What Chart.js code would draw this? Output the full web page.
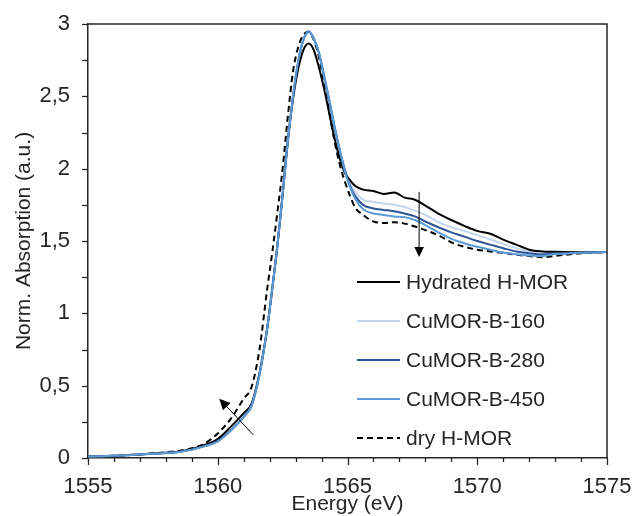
<!DOCTYPE html>
<html>
<head>
<meta charset="utf-8">
<script src="https://cdn.jsdelivr.net/npm/chart.js@4.4.1/dist/chart.umd.min.js"></script>
<style>
  html, body { margin: 0; padding: 0; background: #fff; }
  #wrap { width: 632px; height: 516px; position: relative; }
</style>
</head>
<body>
<div id="wrap"><canvas id="xanesChart"></canvas></div>
<script>
// Energy grid (eV)
const energy = [1555, 1556, 1557, 1558, 1558.5, 1559, 1559.5, 1560, 1560.5, 1561,
    1561.3, 1561.6, 1561.9, 1562.1, 1562.3, 1562.5, 1562.7, 1562.9, 1563.1, 1563.3,
    1563.5, 1563.7, 1563.9, 1564.1, 1564.3, 1564.5, 1564.7, 1564.9, 1565.1, 1565.3,
    1565.6, 1566, 1566.4, 1566.8, 1567.2, 1567.6, 1568, 1568.5, 1569, 1569.5,
    1570, 1570.5, 1571, 1571.5, 1572, 1572.5, 1573, 1574, 1575];

// Normalised absorption of each sample
const hydratedHMOR = [0.01, 0.015, 0.025, 0.036, 0.044, 0.062, 0.09, 0.13, 0.215, 0.31,
    0.375, 0.58, 0.89, 1.17, 1.47, 1.82, 2.19, 2.48, 2.69, 2.82,
    2.865, 2.82, 2.70, 2.55, 2.38, 2.21, 2.07, 1.97, 1.92, 1.88,
    1.855, 1.845, 1.825, 1.835, 1.80, 1.785, 1.745, 1.69, 1.645, 1.605,
    1.57, 1.55, 1.51, 1.475, 1.44, 1.428, 1.425, 1.422, 1.424];
const cuMOR160 = [0.01, 0.015, 0.025, 0.035, 0.042, 0.058, 0.082, 0.116, 0.19, 0.285,
    0.36, 0.57, 0.89, 1.17, 1.47, 1.82, 2.19, 2.50, 2.74, 2.89,
    2.94, 2.90, 2.80, 2.64, 2.47, 2.29, 2.13, 2.00, 1.90, 1.84,
    1.785, 1.77, 1.76, 1.75, 1.735, 1.71, 1.68, 1.63, 1.595, 1.57,
    1.54, 1.51, 1.48, 1.45, 1.425, 1.412, 1.413, 1.418, 1.424];
const cuMOR280 = [0.01, 0.015, 0.025, 0.035, 0.042, 0.058, 0.082, 0.115, 0.19, 0.285,
    0.36, 0.57, 0.89, 1.17, 1.47, 1.82, 2.19, 2.50, 2.74, 2.89,
    2.95, 2.90, 2.80, 2.64, 2.47, 2.29, 2.13, 1.99, 1.88, 1.81,
    1.75, 1.725, 1.715, 1.705, 1.69, 1.67, 1.635, 1.595, 1.56, 1.53,
    1.50, 1.475, 1.45, 1.427, 1.415, 1.407, 1.412, 1.418, 1.424];
const cuMOR450 = [0.01, 0.015, 0.025, 0.035, 0.042, 0.058, 0.082, 0.115, 0.19, 0.285,
    0.36, 0.57, 0.89, 1.17, 1.47, 1.82, 2.19, 2.50, 2.74, 2.89,
    2.945, 2.90, 2.80, 2.63, 2.47, 2.29, 2.13, 1.98, 1.87, 1.79,
    1.72, 1.69, 1.68, 1.67, 1.665, 1.645, 1.61, 1.56, 1.515, 1.485,
    1.46, 1.44, 1.42, 1.408, 1.40, 1.396, 1.41, 1.418, 1.424];
const dryHMOR = [0.01, 0.015, 0.025, 0.04, 0.05, 0.067, 0.10, 0.17, 0.27, 0.41,
    0.49, 0.74, 1.16, 1.42, 1.70, 2.00, 2.36, 2.67, 2.84, 2.925,
    2.945, 2.89, 2.77, 2.59, 2.39, 2.19, 2.03, 1.91, 1.81, 1.73,
    1.68, 1.635, 1.625, 1.63, 1.62, 1.60, 1.575, 1.54, 1.49, 1.46,
    1.44, 1.428, 1.418, 1.405, 1.396, 1.388, 1.397, 1.415, 1.422];

const seriesLabels = ['Hydrated H-MOR', 'CuMOR-B-160', 'CuMOR-B-280', 'CuMOR-B-450', 'dry H-MOR'];
const seriesValues = [hydratedHMOR, cuMOR160, cuMOR280, cuMOR450, dryHMOR];
const seriesColors = ['#000000', '#C5D5EE', '#2F5597', '#5B9BD5', '#000000'];
const seriesDash = [[], [], [], [], [6, 4]];

// trend arrows, in data units [energy, absorption]
const edgeArrowFrom = [1561.37, 0.16];
const edgeArrowTo = [1560.06, 0.41];
const shoulderArrowFrom = [1567.76, 1.84];
const shoulderArrowTo = [1567.76, 1.39];

const FONT = '"Liberation Sans", Arial, sans-serif';
const TEXT = '#262626';

const datasets = seriesLabels.map((label, i) => ({
    label: label,
    data: energy.map((e, j) => ({ x: e, y: seriesValues[i][j] })),
    borderColor: seriesColors[i],
    borderWidth: 2,
    borderDash: seriesDash[i],
    pointRadius: 0,
    fill: false,
    cubicInterpolationMode: 'monotone',
    order: [3, 4, 2, 1, 5][i]
}));

function drawArrow(ctx, x0, y0, x1, y1, head) {
    const ang = Math.atan2(y1 - y0, x1 - x0);
    ctx.beginPath();
    ctx.moveTo(x0, y0);
    ctx.lineTo(x1 - Math.cos(ang) * head * 0.8, y1 - Math.sin(ang) * head * 0.8);
    ctx.stroke();
    ctx.beginPath();
    ctx.moveTo(x1, y1);
    ctx.lineTo(x1 - head * Math.cos(ang - 0.45), y1 - head * Math.sin(ang - 0.45));
    ctx.lineTo(x1 - head * Math.cos(ang + 0.45), y1 - head * Math.sin(ang + 0.45));
    ctx.closePath();
    ctx.fill();
}

const decorPlugin = {
    id: 'decor',
    afterDraw(chart) {
        const ctx = chart.ctx;
        const xs = chart.scales.x, ys = chart.scales.y;
        const a = chart.chartArea;
        ctx.save();

        // frame top / right
        ctx.strokeStyle = '#262626';
        ctx.lineWidth = 1.5;
        ctx.beginPath();
        ctx.moveTo(a.left, a.top);
        ctx.lineTo(a.right, a.top);
        ctx.lineTo(a.right, a.bottom);
        ctx.stroke();

        // tick marks
        ctx.lineWidth = 1.3;
        for (let e = 1555; e <= 1575; e++) {
            const px = Math.round(xs.getPixelForValue(e)) + 0.5;
            const len = e % 5 === 0 ? 7 : 4;
            ctx.beginPath();
            ctx.moveTo(px, a.bottom);
            ctx.lineTo(px, a.bottom + len);
            ctx.stroke();
        }
        for (let v = 0; v <= 3.001; v += 0.25) {
            const py = Math.round(ys.getPixelForValue(v)) + 0.5;
            ctx.beginPath();
            ctx.moveTo(a.left, py);
            ctx.lineTo(a.left - 6, py);
            ctx.stroke();
        }

        // arrows
        ctx.strokeStyle = '#000';
        ctx.fillStyle = '#000';
        ctx.lineWidth = 1;
        drawArrow(ctx, xs.getPixelForValue(edgeArrowFrom[0]), ys.getPixelForValue(edgeArrowFrom[1]),
            xs.getPixelForValue(edgeArrowTo[0]), ys.getPixelForValue(edgeArrowTo[1]), 12);
        drawArrow(ctx, xs.getPixelForValue(shoulderArrowFrom[0]), ys.getPixelForValue(shoulderArrowFrom[1]),
            xs.getPixelForValue(shoulderArrowTo[0]), ys.getPixelForValue(shoulderArrowTo[1]), 11);

        // legend
        ctx.font = '21px ' + FONT;
        ctx.textBaseline = 'middle';
        ctx.textAlign = 'left';
        chart.data.datasets.forEach((ds, i) => {
            const y = 282 + i * 39;
            ctx.strokeStyle = ds.borderColor;
            ctx.lineWidth = 2;
            ctx.setLineDash(ds.borderDash);
            ctx.beginPath();
            ctx.moveTo(357, y);
            ctx.lineTo(400, y);
            ctx.stroke();
            ctx.setLineDash([]);
            ctx.fillStyle = TEXT;
            ctx.fillText(ds.label, 406, y + 1);
        });
        ctx.restore();
    }
};

new Chart(document.getElementById('xanesChart'), {
    type: 'line',
    data: { datasets: datasets },
    options: {
        responsive: true,
        maintainAspectRatio: false,
        animation: false,
        layout: { padding: { top: 24, right: 25, left: 0, bottom: 0 } },
        plugins: { legend: { display: false }, tooltip: { enabled: false } },
        scales: {
            x: {
                type: 'linear',
                min: 1555,
                max: 1575,
                afterFit: s => { s.height = 58; s.paddingLeft = 0; s.paddingRight = 0; },
                grid: { display: false },
                border: { display: true, color: '#262626', width: 1.5 },
                ticks: {
                    stepSize: 1,
                    padding: 8,
                    color: TEXT,
                    font: { family: FONT, size: 22 },
                    maxRotation: 0,
                    autoSkip: false,
                    callback: v => (v % 5 === 0 ? String(v) : '')
                },
                title: {
                    display: true,
                    text: 'Energy (eV)',
                    color: TEXT,
                    font: { family: FONT, size: 21, lineHeight: 1.1 },
                    padding: 0
                }
            },
            y: {
                min: 0,
                max: 3,
                afterFit: s => { s.width = 88; s.paddingTop = 0; s.paddingBottom = 0; },
                grid: { display: false },
                border: { display: true, color: '#262626', width: 1.5 },
                ticks: {
                    stepSize: 0.25,
                    padding: 10,
                    color: TEXT,
                    font: { family: FONT, size: 22 },
                    autoSkip: false,
                    callback: v => (v % 0.5 === 0 ? String(v).replace('.', ',') : '')
                },
                title: {
                    display: true,
                    text: 'Norm. Absorption (a.u.)',
                    color: TEXT,
                    font: { family: FONT, size: 21 },
                    padding: { top: 12, bottom: 0 }
                }
            }
        }
    },
    plugins: [decorPlugin]
});
</script>
</body>
</html>
